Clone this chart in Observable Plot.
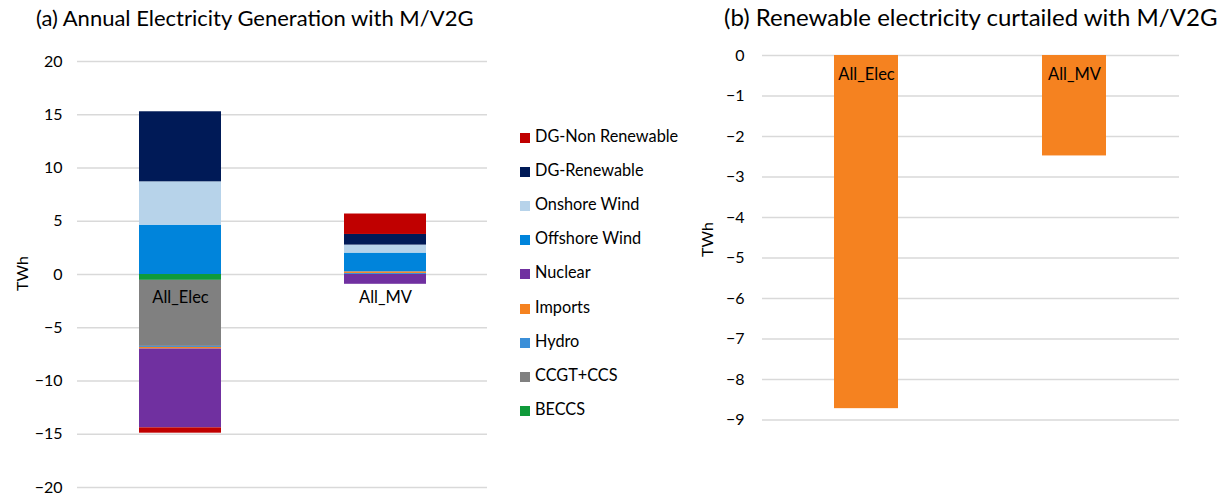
<!DOCTYPE html>
<html>
<head>
<meta charset="utf-8">
<script src="https://cdn.jsdelivr.net/npm/d3@7"></script>
<script src="https://cdn.jsdelivr.net/npm/@observablehq/plot@0.6"></script>
<style>
  html, body { margin: 0; padding: 0; background: #fff; }
  body { width: 1231px; height: 498px; overflow: hidden; position: relative; font-family: Lato, "Open Sans", sans-serif; color: #000; }
  .abs { position: absolute; }
  .title { font-size: 22px; white-space: nowrap; color: #000; }
  .ylab { font-size: 16px; transform: rotate(-90deg); transform-origin: center; white-space: nowrap; color: #000; }
  .leg { font-size: 16.3px; color: #000; white-space: nowrap; }
  .sw { display: inline-block; width: 10px; height: 10px; margin-right: 5px; vertical-align: -1px; }
</style>
</head>
<body>
<div id="root"></div>
<script>
// ---- data ----
const categories = ["All_Elec", "All_MV"];
const seriesNames = ["BECCS", "CCGT+CCS", "Hydro", "Imports", "Nuclear", "Offshore Wind", "Onshore Wind", "DG-Renewable", "DG-Non Renewable"];
const seriesColors = ["#0f9a3a", "#808080", "#3b8fd8", "#f58220", "#7030a0", "#0084db", "#b7d3ea", "#001a57", "#c00000"];
const allElecValues = [-0.55, -6.2, -0.1, -0.15, -7.4, 4.63, 4.07, 6.58, -0.5];
const allMVValues = [0, 0, 0.1, 0.15, -0.92, 1.76, 0.75, 1.0, 1.92];
const curtailedValues = [-8.72, -2.48];
const genTicks = [-20, -15, -10, -5, 0, 5, 10, 15, 20];
const curtTicks = [-9, -8, -7, -6, -5, -4, -3, -2, -1, 0];
const legendOrder = ["DG-Non Renewable", "DG-Renewable", "Onshore Wind", "Offshore Wind", "Nuclear", "Imports", "Hydro", "CCGT+CCS", "BECCS"];

const genRows = [];
seriesNames.forEach((s, i) => {
  genRows.push({cat: "All_Elec", series: s, value: allElecValues[i]});
  genRows.push({cat: "All_MV", series: s, value: allMVValues[i]});
});
const curtRows = categories.map((c, i) => ({cat: c, value: curtailedValues[i]}));

const root = document.getElementById("root");
function addDiv(cls, html, style) {
  const d = document.createElement("div");
  d.className = "abs " + cls;
  d.innerHTML = html;
  Object.assign(d.style, style);
  root.appendChild(d);
  return d;
}

// titles
addDiv("title", "(a) Annual Electricity Generation with M/V2G", {left: "36px", top: "4px"});
addDiv("title", "(b) Renewable electricity curtailed with M/V2G", {left: "724px", top: "2px", fontSize: "24px"});

// ---- chart (a) ----
const chartA = Plot.plot({
  width: 500,
  height: 458,
  marginTop: 21,
  marginBottom: 11,
  marginLeft: 77,
  marginRight: 13,
  style: {fontFamily: "Lato, sans-serif", fontSize: "16px", color: "#000", background: "transparent"},
  x: {domain: categories, paddingInner: 0.6, paddingOuter: 0.3, axis: null},
  y: {domain: [-20, 20], ticks: genTicks, label: null, tickSize: 0, tickPadding: 15, tickFormat: d => String(d)},
  color: {domain: seriesNames, range: seriesColors},
  marks: [
    Plot.ruleY(genTicks, {stroke: "#d9d9d9", strokeWidth: 1.5}),
    Plot.barY(genRows, {x: "cat", y: "value", fill: "series", order: seriesNames}),
    Plot.text(categories, {x: d => d, y: 0, text: d => d, dy: 23, fontSize: 16.5, fill: "#000"}),
    Plot.axisY({ticks: genTicks, tickSize: 0, tickPadding: 15, label: null, fontSize: 16})
  ]
});
const wa = document.createElement("div");
wa.className = "abs";
Object.assign(wa.style, {left: "0px", top: "40px"});
wa.appendChild(chartA);
root.appendChild(wa);

addDiv("ylab", "TWh", {left: "4px", top: "264px"});

// legend
legendOrder.forEach((s, i) => {
  const c = seriesColors[seriesNames.indexOf(s)];
  addDiv("leg", `<span class="sw" style="background:${c}"></span>${s}`, {left: "520px", top: (126 + i * 34.1) + "px"});
});

// ---- chart (b) ----
const chartB = Plot.plot({
  width: 531,
  height: 400,
  marginTop: 15,
  marginBottom: 20.5,
  marginLeft: 62,
  marginRight: 52,
  style: {fontFamily: "Lato, sans-serif", fontSize: "16px", color: "#000", background: "transparent"},
  x: {domain: categories, paddingInner: 0.69, paddingOuter: 0.345, axis: null},
  y: {domain: [-9, 0], ticks: curtTicks, label: null, tickSize: 0, tickPadding: 18, tickFormat: d => String(d)},
  marks: [
    Plot.ruleY(curtTicks, {stroke: "#d9d9d9", strokeWidth: 1.5}),
    Plot.barY(curtRows, {x: "cat", y: "value", fill: "#f58220"}),
    Plot.text(categories, {x: d => d, y: 0, text: d => d, dy: 19, fontSize: 16.5, fill: "#000"}),
    Plot.axisY({ticks: curtTicks, tickSize: 0, tickPadding: 18, label: null, fontSize: 16})
  ]
});
const wb = document.createElement("div");
wb.className = "abs";
Object.assign(wb.style, {left: "700px", top: "40px"});
wb.appendChild(chartB);
root.appendChild(wb);

addDiv("ylab", "TWh", {left: "689px", top: "230px"});
</script>
</body>
</html>
